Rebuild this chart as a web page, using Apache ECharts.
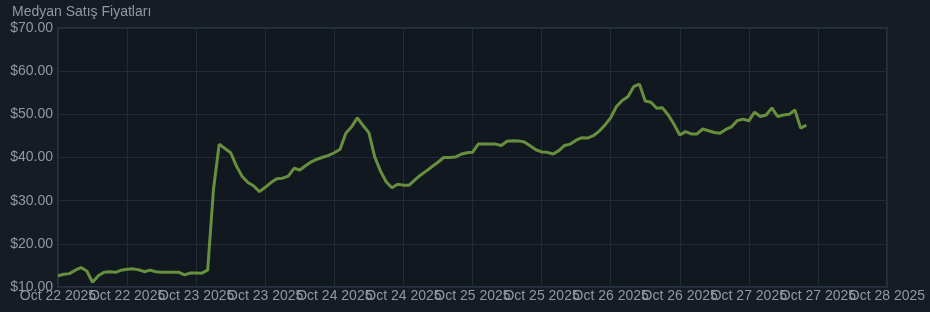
<!DOCTYPE html>
<html>
<head>
<meta charset="utf-8">
<script src="https://cdn.jsdelivr.net/npm/echarts@6/dist/echarts.min.js"></script>
<style>
html,body{margin:0;padding:0;background:#161c24;}
#c{width:930px;height:312px;}
</style>
</head>
<body>
<div id="c"></div>
<script>
const title = 'Medyan Satış Fiyatları';
// x tick labels every 12 hours from Oct 22 2025 00:00
const xTickLabels = ['Oct 22 2025','Oct 22 2025','Oct 23 2025','Oct 23 2025','Oct 24 2025','Oct 24 2025','Oct 25 2025','Oct 25 2025','Oct 26 2025','Oct 26 2025','Oct 27 2025','Oct 27 2025','Oct 28 2025'];
const hoursPerTick = 12;
// hourly median prices, index = hours since Oct 22 2025 00:00
const prices = [
  12.6,12.95,13.1,13.9,14.5,13.7,11.1,12.6,13.4,13.55,13.4,13.9,
  14.1,14.2,14.0,13.55,13.9,13.55,13.4,13.4,13.4,13.4,12.8,13.25,
  13.25,13.2,13.9,32.5,43.1,42.1,41.1,38.0,35.6,34.2,33.4,32.1,
  33.1,34.2,35.1,35.2,35.7,37.5,37.1,38.1,39.0,39.6,40.05,40.5,
  41.1,41.9,45.6,47.1,49.2,47.4,45.75,40.2,36.9,34.4,33.0,33.8,
  33.6,33.6,34.8,35.95,36.9,37.9,38.9,40.0,40.0,40.1,40.75,41.1,
  41.2,43.1,43.1,43.1,43.1,42.8,43.75,43.9,43.85,43.6,42.7,41.8,
  41.3,41.2,40.8,41.6,42.8,43.1,44.0,44.6,44.5,45.05,46.1,47.5,
  49.2,51.8,53.2,54.1,56.4,57.0,53.1,52.8,51.4,51.5,49.85,47.7,
  45.2,46.0,45.45,45.45,46.6,46.2,45.8,45.6,46.5,47.1,48.55,48.9,
  48.5,50.5,49.5,49.85,51.5,49.5,49.85,50.0,51.0,46.8,47.5
];
const yMin = 10, yMax = 70, yStep = 10;

// one category per hour across the whole axis span
const hours = [];
for (let h = 0; h <= (xTickLabels.length - 1) * hoursPerTick; h++) hours.push(String(h));

const chart = echarts.init(document.getElementById('c'), null, {renderer: 'canvas'});
const textColor = '#9099a3';
const font = 'Liberation Sans, Arial, sans-serif';
chart.setOption({
  backgroundColor: '#161c24',
  animation: false,
  title: {
    text: title,
    left: 12, top: 5, padding: 0,
    textStyle: {color: textColor, fontSize: 14, fontWeight: 'normal', fontFamily: font}
  },
  grid: {
    left: 58, right: 43, top: 28, bottom: 25,
    show: true,
    backgroundColor: '#111820',
    borderColor: '#263240',
    borderWidth: 2
  },
  xAxis: {
    type: 'category',
    data: hours,
    boundaryGap: false,
    axisLine: {show: false},
    axisTick: {show: false},
    splitLine: {show: true, interval: hoursPerTick - 1, lineStyle: {color: '#222c38', width: 1}},
    axisLabel: {
      color: textColor, fontSize: 14, margin: 2,
      fontFamily: font,
      interval: 0, hideOverlap: false,
      formatter: (val, idx) => idx % hoursPerTick === 0 ? xTickLabels[idx / hoursPerTick] : ''
    }
  },
  yAxis: {
    type: 'value',
    min: yMin, max: yMax, interval: yStep,
    axisLine: {show: false},
    axisTick: {show: false},
    splitLine: {show: true, lineStyle: {color: '#222c38', width: 1}},
    axisLabel: {
      color: textColor, fontSize: 14, margin: 5,
      fontFamily: font,
      showMinLabel: true, showMaxLabel: true,
      formatter: v => '$' + v.toFixed(2)
    }
  },
  series: [{
    type: 'line',
    data: prices,
    showSymbol: false,
    symbol: 'none',
    lineStyle: {color: '#688f3e', width: 3},
    itemStyle: {color: '#688f3e'}
  }]
});
</script>
</body>
</html>
